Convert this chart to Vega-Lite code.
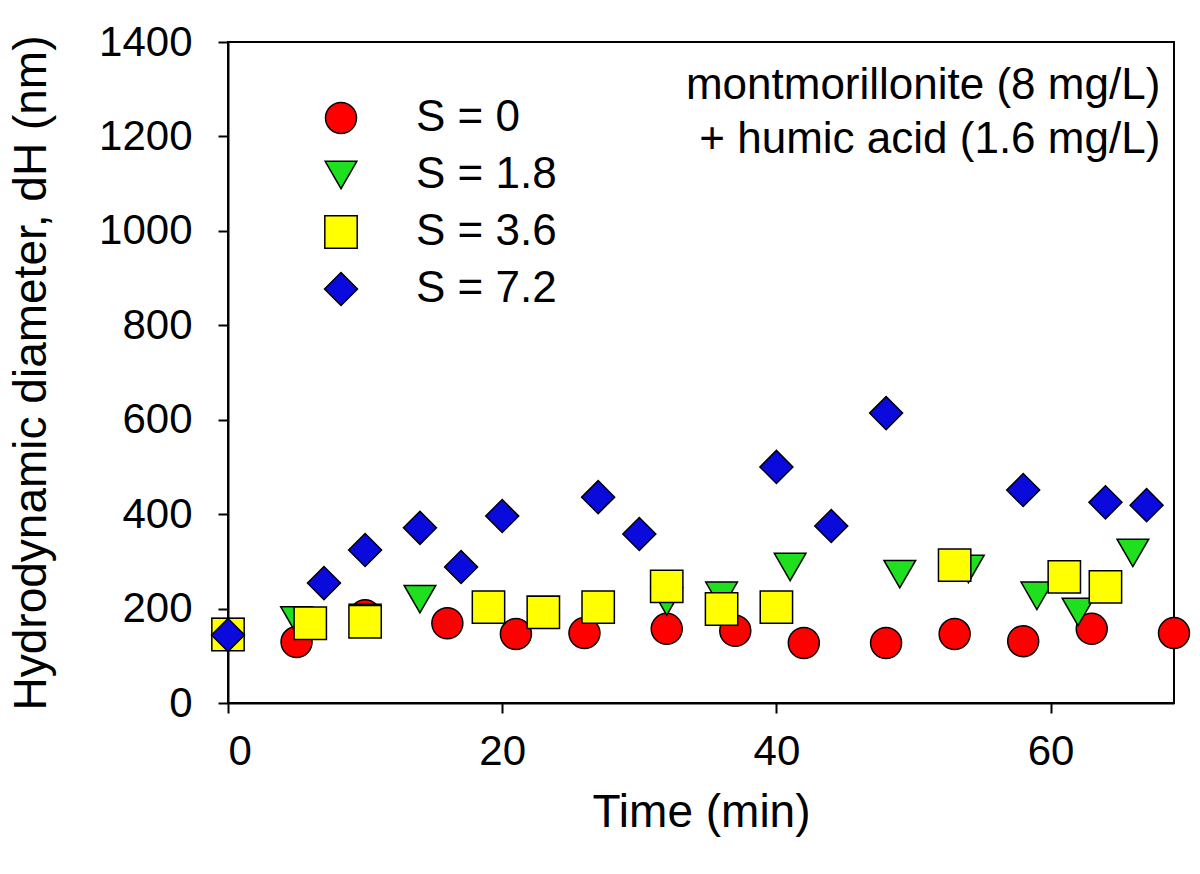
{
  "$schema": "https://vega.github.io/schema/vega-lite/v6.json",
  "width": 946,
  "height": 661,
  "autosize": {"type": "none"},
  "padding": {"left": 228, "top": 42, "right": 26, "bottom": 171},
  "background": "white",
  "config": {
    "font": "Liberation Sans",
    "view": {"stroke": "black", "strokeWidth": 2},
    "axis": {"grid": false, "domainColor": "black", "domainWidth": 2, "tickColor": "black", "tickWidth": 2, "tickSize": 10, "labelColor": "black", "titleColor": "black", "labelFont": "Liberation Sans", "titleFont": "Liberation Sans", "labelFontSize": 42, "titleFontSize": 46, "titleFontWeight": "normal"}
  },
  "data": {
    "values": [
      {"time": 0, "dH": 144, "S": "S = 0"},
      {"time": 5, "dH": 129, "S": "S = 0"},
      {"time": 10, "dH": 186, "S": "S = 0"},
      {"time": 16, "dH": 169, "S": "S = 0"},
      {"time": 21, "dH": 146, "S": "S = 0"},
      {"time": 26, "dH": 148, "S": "S = 0"},
      {"time": 32, "dH": 157, "S": "S = 0"},
      {"time": 37, "dH": 153, "S": "S = 0"},
      {"time": 42, "dH": 127, "S": "S = 0"},
      {"time": 48, "dH": 127, "S": "S = 0"},
      {"time": 53, "dH": 146, "S": "S = 0"},
      {"time": 58, "dH": 131, "S": "S = 0"},
      {"time": 63, "dH": 157, "S": "S = 0"},
      {"time": 69, "dH": 148, "S": "S = 0"},
      {"time": 0, "dH": 150, "S": "S = 1.8"},
      {"time": 5, "dH": 175, "S": "S = 1.8"},
      {"time": 10, "dH": 180, "S": "S = 1.8"},
      {"time": 14, "dH": 220, "S": "S = 1.8"},
      {"time": 23, "dH": 197, "S": "S = 1.8"},
      {"time": 32, "dH": 215, "S": "S = 1.8"},
      {"time": 36, "dH": 227, "S": "S = 1.8"},
      {"time": 41, "dH": 288, "S": "S = 1.8"},
      {"time": 49, "dH": 273, "S": "S = 1.8"},
      {"time": 54, "dH": 284, "S": "S = 1.8"},
      {"time": 59, "dH": 227, "S": "S = 1.8"},
      {"time": 62, "dH": 193, "S": "S = 1.8"},
      {"time": 66, "dH": 318, "S": "S = 1.8"},
      {"time": 0, "dH": 145, "S": "S = 3.6"},
      {"time": 6, "dH": 169, "S": "S = 3.6"},
      {"time": 10, "dH": 172, "S": "S = 3.6"},
      {"time": 19, "dH": 203, "S": "S = 3.6"},
      {"time": 23, "dH": 192, "S": "S = 3.6"},
      {"time": 27, "dH": 203, "S": "S = 3.6"},
      {"time": 32, "dH": 247, "S": "S = 3.6"},
      {"time": 36, "dH": 199, "S": "S = 3.6"},
      {"time": 40, "dH": 203, "S": "S = 3.6"},
      {"time": 53, "dH": 292, "S": "S = 3.6"},
      {"time": 61, "dH": 267, "S": "S = 3.6"},
      {"time": 64, "dH": 246, "S": "S = 3.6"},
      {"time": 0, "dH": 144, "S": "S = 7.2"},
      {"time": 7, "dH": 254, "S": "S = 7.2"},
      {"time": 10, "dH": 324, "S": "S = 7.2"},
      {"time": 14, "dH": 371, "S": "S = 7.2"},
      {"time": 17, "dH": 288, "S": "S = 7.2"},
      {"time": 20, "dH": 396, "S": "S = 7.2"},
      {"time": 27, "dH": 436, "S": "S = 7.2"},
      {"time": 30, "dH": 358, "S": "S = 7.2"},
      {"time": 40, "dH": 500, "S": "S = 7.2"},
      {"time": 44, "dH": 375, "S": "S = 7.2"},
      {"time": 48, "dH": 614, "S": "S = 7.2"},
      {"time": 58, "dH": 451, "S": "S = 7.2"},
      {"time": 64, "dH": 425, "S": "S = 7.2"},
      {"time": 67, "dH": 419, "S": "S = 7.2"}
    ]
  },
  "layer": [
    {
      "mark": {"type": "point", "filled": true, "opacity": 1, "stroke": "black", "strokeWidth": 1.5},
      "encoding": {
        "x": {"field": "time", "type": "quantitative", "scale": {"domain": [0, 69], "nice": false, "zero": false},
          "axis": {"values": [0, 20, 40, 60], "title": "Time (min)", "labelPadding": 18, "titlePadding": 18}},
        "y": {"field": "dH", "type": "quantitative", "scale": {"domain": [0, 1400], "nice": false},
          "axis": {"values": [0, 200, 400, 600, 800, 1000, 1200, 1400], "format": "d", "title": "Hydrodynamic diameter, dH (nm)", "labelPadding": 26, "titlePadding": 43}},
        "color": {"field": "S", "type": "nominal", "scale": {"domain": ["S = 0", "S = 1.8", "S = 3.6", "S = 7.2"], "range": ["#FF0000", "#1EE01E", "#FFFF00", "#0A0ADC"]},
          "legend": {"title": null, "orient": "none", "legendX": 91, "legendY": 54, "labelFontSize": 44, "labelFont": "Liberation Sans", "labelColor": "black", "labelOffset": 53, "rowPadding": 13, "symbolStrokeColor": "black", "symbolStrokeWidth": 1.5, "symbolOpacity": 1, "padding": 0}},
        "shape": {"field": "S", "type": "nominal", "scale": {"domain": ["S = 0", "S = 1.8", "S = 3.6", "S = 7.2"], "range": ["circle", "triangle-down", "square", "diamond"]}},
        "size": {"field": "S", "type": "nominal", "scale": {"domain": ["S = 0", "S = 1.8", "S = 3.6", "S = 7.2"], "range": [961, 1089, 841, 1369]}}
      }
    },
    {
      "data": {"values": [{"note": "annotation"}]},
      "mark": {"type": "text", "align": "right", "baseline": "middle", "fontSize": 44, "font": "Liberation Sans", "fill": "black", "lineHeight": 54},
      "encoding": {
        "x": {"datum": 68},
        "y": {"datum": 1307},
        "text": {"value": ["montmorillonite (8 mg/L)", "+ humic acid (1.6 mg/L)"]}
      }
    }
  ]
}
